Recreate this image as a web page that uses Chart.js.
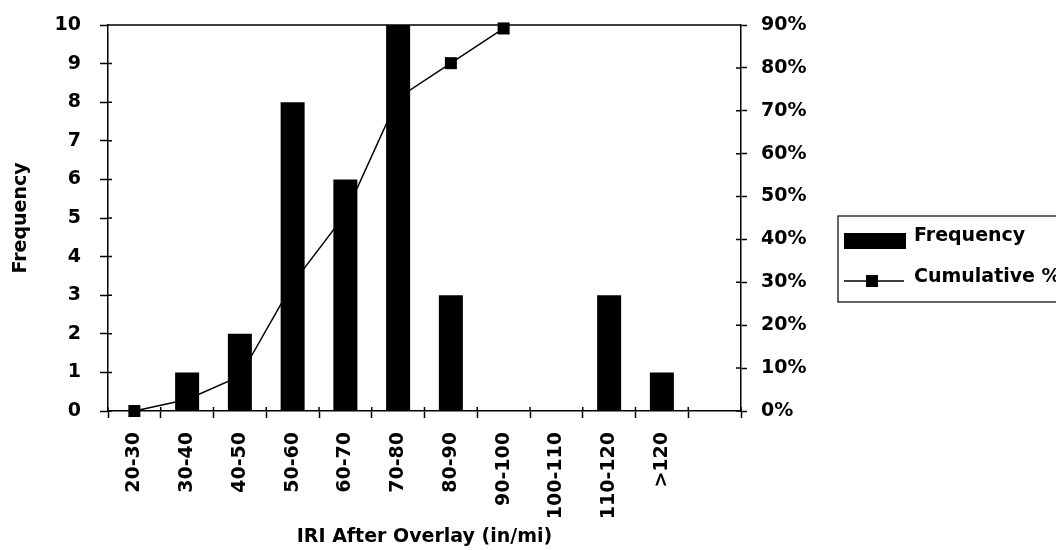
<!DOCTYPE html>
<html><head><meta charset="utf-8">
<script src="https://cdn.jsdelivr.net/npm/chart.js@4.4.0/dist/chart.umd.min.js"></script>
<style>html,body{margin:0;padding:0;background:#fff;}#wrap{width:1056px;height:550px;position:relative;}</style>
</head><body><div id="wrap"><canvas id="c"></canvas></div>
<script>
const categories = ['20-30','30-40','40-50','50-60','60-70','70-80','80-90','90-100','100-110','110-120','>120',''];
const frequency = [0,1,2,8,6,10,3,0,0,3,1,null];
const cumulativePct = [0,2.7,8.1,29.7,45.9,73.0,81.1,89.2,null,null,null,null];
const freqAxis = {min:0,max:10,step:1};
const pctAxis = {min:0,max:90,step:10};
const xTitle = 'IRI After Overlay (in/mi)';
const yTitle = 'Frequency';

const FONT = "'DejaVu Sans', 'Liberation Sans', Arial, sans-serif";
Chart.defaults.font.family = FONT;
Chart.defaults.font.size = 19;
Chart.defaults.font.weight = 'bold';
Chart.defaults.color = '#000';

const BLACK = '#000';

const framePlugin = {
  id: 'frame',
  afterDatasetsDraw(chart){
    const {ctx, chartArea:a, scales} = chart;
    ctx.save();
    ctx.strokeStyle = BLACK; ctx.lineWidth = 1.5;
    ctx.beginPath();
    ctx.moveTo(a.left, a.top); ctx.lineTo(a.right, a.top);
    scales.y.ticks.forEach((t,i)=>{const p = scales.y.getPixelForTick(i); ctx.moveTo(a.left, p); ctx.lineTo(a.left+4, p);});
    scales.y1.ticks.forEach((t,i)=>{const p = scales.y1.getPixelForTick(i); ctx.moveTo(a.right, p); ctx.lineTo(a.right-5, p);});
    const n = categories.length, w = (a.right - a.left)/n;
    for(let i=0;i<=n;i++){const px = a.left + i*w; ctx.moveTo(px, a.bottom); ctx.lineTo(px, a.bottom-4);}
    ctx.stroke();
    ctx.restore();
  }
};

const legendPlugin = {
  id: 'boxLegend',
  afterDraw(chart){
    const ctx = chart.ctx;
    const ds = chart.data.datasets;
    ctx.save();
    ctx.strokeStyle = BLACK; ctx.lineWidth = 1.2;
    ctx.strokeRect(838, 216, 240, 86);
    ctx.font = "bold 19px " + FONT;
    ctx.textBaseline = 'middle'; ctx.textAlign = 'left'; ctx.fillStyle = BLACK;
    ctx.fillRect(844, 233, 62, 16);
    ctx.fillText(ds[0].label, 914, 236);
    ctx.lineWidth = 1.5;
    ctx.beginPath(); ctx.moveTo(844, 281); ctx.lineTo(904, 281); ctx.stroke();
    ctx.fillRect(866, 275, 12, 12);
    ctx.fillText(ds[1].label, 914, 277);
    ctx.restore();
  }
};

const noPadY = (w) => (s) => { s.width = w; s.paddingTop = 0; s.paddingBottom = 0; };

new Chart(document.getElementById('c'), {
  data: {
    labels: categories,
    datasets: [
      { type:'bar', label:'Frequency', data: frequency, yAxisID:'y', backgroundColor: BLACK,
        barPercentage: 0.455, categoryPercentage: 1, order: 0 },
      { type:'line', label:'Cumulative %', data: cumulativePct, yAxisID:'y1', borderColor: BLACK,
        borderWidth: 1.5, pointStyle:'rect', pointRadius: 8.5, pointBackgroundColor: BLACK,
        pointBorderColor: BLACK, pointBorderWidth: 0, tension: 0, clip: false, order: 1 }
    ]
  },
  options: {
    responsive: true, maintainAspectRatio: false, animation: false, devicePixelRatio: 1,
    layout: { padding: { top: 25, left: 0, right: 0, bottom: 0 } },
    plugins: { legend: { display: false }, tooltip: { enabled: false } },
    scales: {
      x: {
        type: 'category', offset: true,
        grid: { display: true, drawOnChartArea: false, drawTicks: true, tickLength: 7, offset: true, color: BLACK, tickColor: BLACK, tickWidth: 1.5 },
        border: { display: true, color: BLACK, width: 1.5 },
        ticks: { minRotation: 90, maxRotation: 90, autoSkip: false, padding: 14 },
        title: { display: true, text: xTitle, padding: { top: 0, bottom: 2 } },
        afterFit: (s) => { s.height = 139; s.paddingLeft = 0; s.paddingRight = 0; }
      },
      y: {
        position: 'left', min: freqAxis.min, max: freqAxis.max,
        grid: { display: true, drawOnChartArea: false, drawTicks: true, tickLength: 8, color: BLACK, tickColor: BLACK, tickWidth: 1.5 },
        border: { display: true, color: BLACK, width: 1.5 },
        ticks: { stepSize: freqAxis.step, padding: 19 },
        title: { display: true, text: yTitle, padding: { top: 10, bottom: 0 } },
        afterFit: noPadY(108)
      },
      y1: {
        position: 'right', min: pctAxis.min, max: pctAxis.max,
        grid: { display: true, drawOnChartArea: false, drawTicks: true, tickLength: 6, color: BLACK, tickColor: BLACK, tickWidth: 1.5 },
        border: { display: true, color: BLACK, width: 1.5 },
        ticks: { stepSize: pctAxis.step, padding: 14, callback: (v) => v + '%' },
        afterFit: noPadY(315)
      }
    }
  },
  plugins: [framePlugin, legendPlugin]
});
</script>
</body></html>
